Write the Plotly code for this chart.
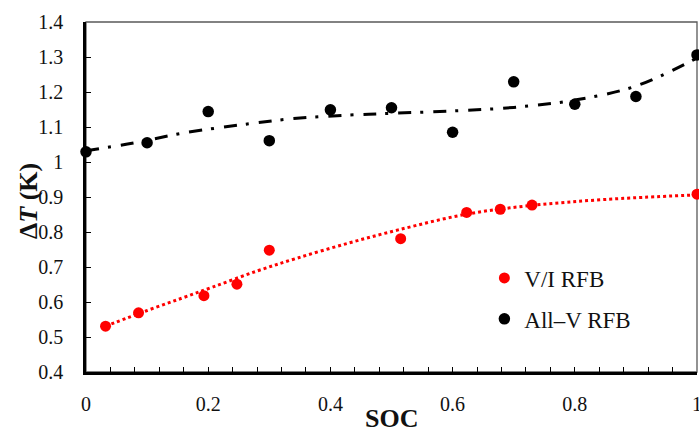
import plotly.graph_objects as go

# V/I RFB measured points
vi_soc = [0.032, 0.086, 0.193, 0.247, 0.300, 0.515, 0.623, 0.678, 0.730, 1.000]
vi_dt = [0.531, 0.569, 0.618, 0.651, 0.748, 0.781, 0.856, 0.865, 0.877, 0.908]

# All-V RFB measured points
allv_soc = [0.0, 0.1, 0.2, 0.3, 0.4, 0.5, 0.6, 0.7, 0.8, 0.9, 1.0]
allv_dt = [1.029, 1.055, 1.144, 1.061, 1.149, 1.155, 1.085, 1.229, 1.165, 1.187, 1.306]

# Trend lines
vi_trend_soc = [0.032, 0.099, 0.157, 0.208, 0.279, 0.345, 0.429, 0.511, 0.623, 0.730, 0.850, 1.000]
vi_trend_dt = [0.531, 0.575, 0.611, 0.643, 0.688, 0.725, 0.768, 0.806, 0.851, 0.876, 0.893, 0.906]

allv_trend_soc = [0.0, 0.08, 0.16, 0.28, 0.34, 0.43, 0.5, 0.6, 0.7, 0.8, 0.9, 1.0]
allv_trend_dt = [1.032, 1.055, 1.083, 1.112, 1.124, 1.134, 1.139, 1.146, 1.156, 1.177, 1.217, 1.297]

x_ticks = [0, 0.2, 0.4, 0.6, 0.8, 1]
x_tick_text = ["0", "0.2", "0.4", "0.6", "0.8", "1"]
y_ticks = [0.4, 0.5, 0.6, 0.7, 0.8, 0.9, 1.0, 1.1, 1.2, 1.3, 1.4]
y_tick_text = ["0.4", "0.5", "0.6", "0.7", "0.8", "0.9", "1", "1.1", "1.2", "1.3", "1.4"]

FONT = "Liberation Serif"

fig = go.Figure()

fig.add_trace(go.Scatter(
    x=vi_trend_soc, y=vi_trend_dt, mode="lines",
    line=dict(color="#FF0000", width=3, dash="dot", shape="spline", smoothing=1.0),
    showlegend=False, hoverinfo="skip", cliponaxis=False))
fig.add_trace(go.Scatter(
    x=allv_trend_soc, y=allv_trend_dt, mode="lines",
    line=dict(color="#000000", width=3, dash="13px,9px,3px,10px", shape="spline", smoothing=1.0),
    showlegend=False, hoverinfo="skip", cliponaxis=False))

fig.add_trace(go.Scatter(
    x=vi_soc, y=vi_dt, mode="markers", name="V/I RFB", legendgroup="a",
    marker=dict(color="#FF0000", size=11), cliponaxis=False))
fig.add_trace(go.Scatter(
    x=allv_soc, y=allv_dt, mode="markers", name="All\u2013V RFB", legendgroup="b",
    marker=dict(color="#000000", size=11.5), cliponaxis=False))

fig.update_layout(
    width=699, height=432,
    margin=dict(l=86, r=2, t=22, b=60, autoexpand=False),
    paper_bgcolor="white", plot_bgcolor="white",
    font=dict(family=FONT, color="#111111", size=20),
    showlegend=True,
    legend=dict(
        x=0.652, y=0.33, xanchor="left", yanchor="top",
        bgcolor="rgba(0,0,0,0)", font=dict(family=FONT, size=23, color="#111111"),
        traceorder="grouped", tracegroupgap=8, itemwidth=30,
    ),
    xaxis=dict(
        range=[0, 1], tickmode="array", tickvals=x_ticks, ticktext=x_tick_text,
        showgrid=False, zeroline=False, showline=True, linecolor="black", linewidth=2.5,
        ticks="inside", ticklen=5, tickwidth=1.2, tickcolor="black",
        minor=dict(dtick=0.04, tick0=0, ticks="inside", ticklen=5, tickwidth=1.2, tickcolor="black", showgrid=False),
        ticklabelstandoff=12, ticklabeloverflow="allow", automargin=False,
        tickfont=dict(size=20, family=FONT),
    ),
    yaxis=dict(
        range=[0.4, 1.4], tickmode="array", tickvals=y_ticks, ticktext=y_tick_text,
        showgrid=False, zeroline=False, showline=True, linecolor="black", linewidth=2.5,
        ticks="inside", ticklen=5, tickwidth=1.2, tickcolor="black", automargin=False,
        ticklabelstandoff=16, tickfont=dict(size=20, family=FONT),
    ),
    shapes=[dict(type="rect", xref="paper", yref="paper", x0=0, y0=0, x1=1, y1=1,
                 line=dict(color="#595959", width=1.3), layer="below")],
    annotations=[
        dict(text="<b>SOC</b>", xref="paper", yref="paper", x=0.5, y=-0.134,
             xanchor="center", yanchor="middle", showarrow=False,
             font=dict(family=FONT, size=26, color="#111111")),
        dict(text="<b>\u0394<i>T</i> (K)</b>", xref="paper", yref="paper", x=-0.093, y=0.489,
             xanchor="center", yanchor="middle", showarrow=False, textangle=-90,
             font=dict(family=FONT, size=26, color="#111111")),
    ],
)

fig.write_html("out.html")
